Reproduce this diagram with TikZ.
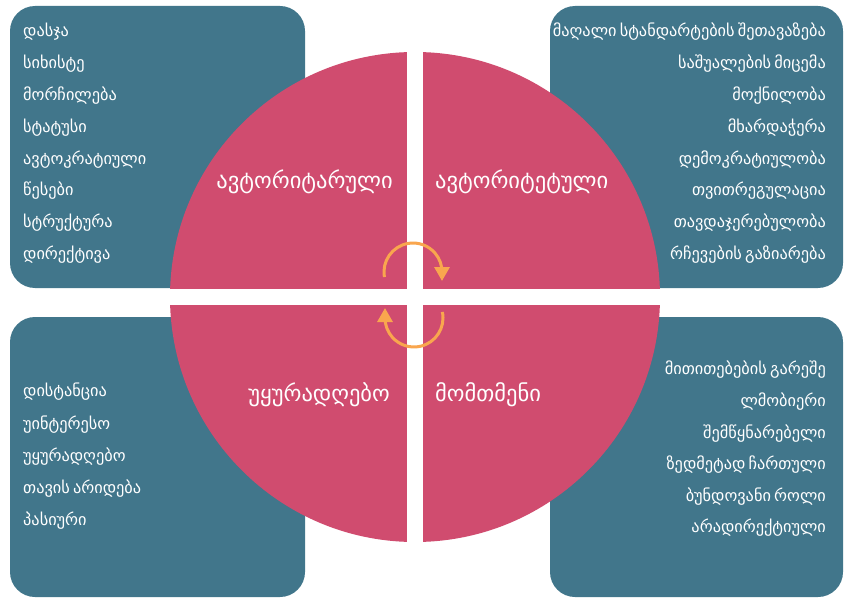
\documentclass[tikz,border=0pt]{standalone}
\usepackage{fontspec}
\setmainfont{DejaVu Sans}
\usetikzlibrary{arrows.meta}
\definecolor{boxc}{RGB}{65,118,139}
\definecolor{circc}{RGB}{208,76,111}
\definecolor{arrc}{RGB}{249,166,78}
\newcommand\hdr[2]{\iffontchar\font"1C90\relax #1\else #2\fi}
\newcommand\itemfont{\fontsize{16.3}{19}\selectfont\spaceskip 0.2em\relax}
\tikzset{
  panel/.style={fill=boxc, rounded corners=25pt},
  item/.style={text=white, font=\itemfont, inner sep=0pt},
  head/.style={text=white, font=\fontsize{22.5}{26}\selectfont, inner sep=0pt},
  cyc/.style={draw=arrc, line width=3pt, -{Triangle[width=15pt,length=14pt]}}
}
\begin{document}
\begin{tikzpicture}[x=1pt,y=-1pt]
\useasboundingbox (0,0) rectangle (849,599);
% panels
\fill[panel] (10,6) rectangle (305,288);
\fill[panel] (550,6) rectangle (843,288);
\fill[panel] (10,317) rectangle (305,597);
\fill[panel] (550,317) rectangle (843,597);
% circle
\fill[circc] (415,297) circle[radius=245];
\fill[white] (407,40) rectangle (423,555);
\fill[white] (160,289) rectangle (670,305);
% headers
\node[head, anchor=east] (h1) at (393,182) {\hdr{ᲐᲕᲢᲝᲠᲘᲢᲐᲠᲣᲚᲘ}{ავტორიტარული}};
\node[head, anchor=west] (h2) at (435,182) {\hdr{ᲐᲕᲢᲝᲠᲘᲢᲔᲢᲣᲚᲘ}{ავტორიტეტული}};
\node[head, anchor=east] (h3) at (390,395) {\hdr{ᲣᲧᲣᲠᲐᲓᲦᲔᲑᲝ}{უყურადღებო}};
\node[head, anchor=west] (h4) at (435,395) {\hdr{ᲛᲝᲛᲗᲛᲔᲜᲘ}{მომთმენი}};
% lists
\foreach \t [count=\i] in {დასჯა,სიხისტე,მორჩილება,სტატუსი,ავტოკრატიული,წესები,სტრუქტურა,დირექტივა}
  \node[item, anchor=west] (a\i) at (23,{32+31.8*(\i-1)}) {\t};
\foreach \t [count=\i] in {მაღალი სტანდარტების შეთავაზება,საშუალების მიცემა,მოქნილობა,მხარდაჭერა,დემოკრატიულობა,თვითრეგულაცია,თავდაჯერებულობა,რჩევების გაზიარება}
  \node[item, anchor=east] (b\i) at (826,{32+31.8*(\i-1)}) {\t};
\foreach \t [count=\i] in {დისტანცია,უინტერესო,უყურადღებო,თავის არიდება,პასიური}
  \node[item, anchor=west] (c\i) at (23,{392+32.2*(\i-1)}) {\t};
\foreach \t [count=\i] in {მითითებების გარეშე,ლმობიერი,შემწყნარებელი,ზედმეტად ჩართული,ბუნდოვანი როლი,არადირექტიული}
  \node[item, anchor=east] (d\i) at (826,{370+31.6*(\i-1)}) {\t};
% cycle arrows
\draw[cyc] (413,272) ++(170:29) arc[start angle=170, end angle=360, radius=29] -- ++(0,9);
\draw[cyc] (414,318) ++(-12:29) arc[start angle=-12, end angle=180, radius=29] -- ++(0,-10);
\end{tikzpicture}
\end{document}
